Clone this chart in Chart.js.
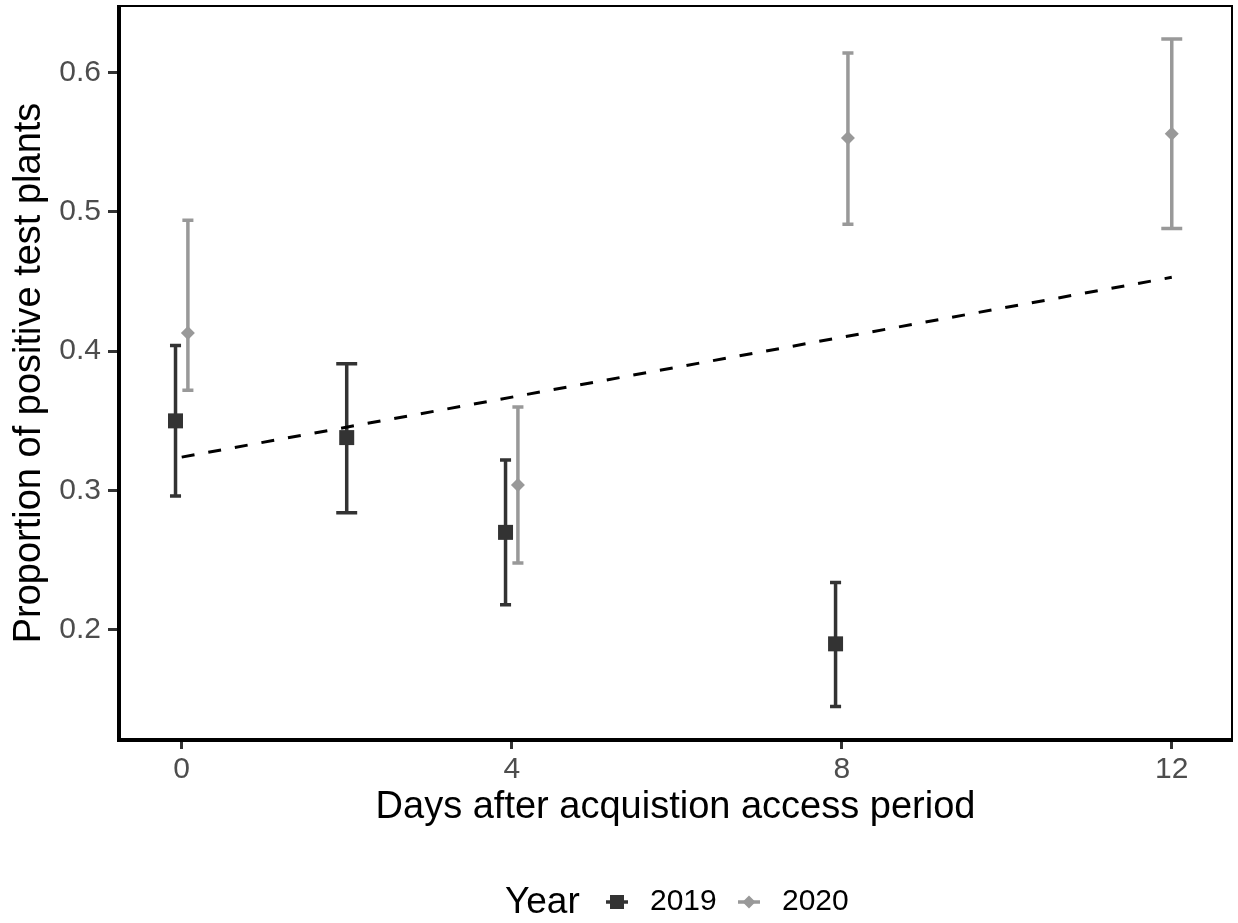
<!DOCTYPE html>
<html>
<head>
<meta charset="utf-8">
<script src="https://cdn.jsdelivr.net/npm/chart.js@4/dist/chart.umd.min.js"></script>
<style>
  body { margin: 0; background: #fff; }
  #wrap { width: 1238px; height: 923px; }
</style>
</head>
<body>
<div id="wrap"><canvas id="propChart" width="1238" height="923"></canvas></div>
<script>
// values
var years = ['2019', '2020'];
var days2019 = [0, 2, 4, 8];
var prop2019 = [0.350, 0.338, 0.270, 0.190];
var low2019 = [0.296, 0.284, 0.218, 0.145];
var high2019 = [0.404, 0.391, 0.322, 0.234];

var days2020 = [0, 4, 8, 12];
var prop2020 = [0.413, 0.304, 0.553, 0.556];
var low2020 = [0.372, 0.248, 0.491, 0.488];
var high2020 = [0.494, 0.360, 0.614, 0.624];

var trendDays = [0, 12];
var trendProp = [0.324, 0.453];

var xTickValues = [0, 4, 8, 12];
var yTickValues = [0.2, 0.3, 0.4, 0.5, 0.6];

var FONT = "'Liberation Sans', Arial, sans-serif";
var colors = ['#333333', '#999999'];
var DODGE = 0.075;

// shift a point sideways when the other year shares the same day
function dodged(days, otherDays, sign) {
    return days.map(function (d) {
        return otherDays.indexOf(d) >= 0 ? d + sign * DODGE : d;
    });
}
var x2019 = dodged(days2019, days2020, -1);
var x2020 = dodged(days2020, days2019, 1);

function toPoints(xs, ys) {
    return xs.map(function (x, i) { return { x: x, y: ys[i] }; });
}

var errorGroups = [
    { x: x2019, days: days2019, low: low2019, high: high2019, color: colors[0] },
    { x: x2020, days: days2020, low: low2020, high: high2020, color: colors[1] }
];

// ------------------------------------------------------- //
// error bars, drawn under the points
// ------------------------------------------------------ //
var errorBars = {
    id: 'errorBars',
    beforeDatasetsDraw: function (chart) {
        var ctx = chart.ctx, xs = chart.scales.x, ys = chart.scales.y;
        ctx.save();
        ctx.lineWidth = 3.5;
        errorGroups.forEach(function (g) {
            ctx.strokeStyle = g.color;
            g.x.forEach(function (xv, i) {
                var single = xv === g.days[i];
                var half = single ? 0.127 : 0.067;
                var px = xs.getPixelForValue(xv);
                var pl = xs.getPixelForValue(xv - half);
                var pr = xs.getPixelForValue(xv + half);
                var top = ys.getPixelForValue(g.high[i]);
                var bot = ys.getPixelForValue(g.low[i]);
                ctx.beginPath();
                ctx.moveTo(px, top); ctx.lineTo(px, bot);
                ctx.moveTo(pl, top); ctx.lineTo(pr, top);
                ctx.moveTo(pl, bot); ctx.lineTo(pr, bot);
                ctx.stroke();
            });
        });
        ctx.restore();
    }
};

// ------------------------------------------------------- //
// panel frame + bottom legend
// ------------------------------------------------------ //
var frameAndLegend = {
    id: 'frameAndLegend',
    afterDraw: function (chart) {
        var ctx = chart.ctx, a = chart.chartArea;
        ctx.save();
        ctx.strokeStyle = '#000';
        ctx.lineWidth = 2;
        ctx.beginPath();
        ctx.moveTo(a.left, a.top); ctx.lineTo(a.right, a.top); ctx.lineTo(a.right, a.bottom);
        ctx.stroke();
        ctx.lineWidth = 4;
        ctx.beginPath();
        ctx.moveTo(a.left, a.top - 1); ctx.lineTo(a.left, a.bottom); ctx.lineTo(a.right + 1, a.bottom);
        ctx.stroke();

        var ly = 902;
        ctx.fillStyle = '#000';
        ctx.textBaseline = 'middle';
        ctx.textAlign = 'left';
        ctx.font = '37px ' + FONT;
        ctx.fillText('Year', 505, ly + 1);

        var keys = [
            { cx: 617, tx: 650, style: 'rect' },
            { cx: 749, tx: 782, style: 'rectRot' }
        ];
        keys.forEach(function (k, i) {
            ctx.strokeStyle = colors[i];
            ctx.lineWidth = 3.5;
            ctx.beginPath();
            ctx.moveTo(k.cx - 11, ly); ctx.lineTo(k.cx + 11, ly);
            ctx.stroke();
            ctx.fillStyle = colors[i];
            ctx.beginPath();
            if (k.style === 'rect') {
                ctx.rect(k.cx - 7, ly - 7, 14, 14);
            } else {
                ctx.moveTo(k.cx - 6.5, ly); ctx.lineTo(k.cx, ly - 6.5);
                ctx.lineTo(k.cx + 6.5, ly); ctx.lineTo(k.cx, ly + 6.5);
                ctx.closePath();
            }
            ctx.fill();
            ctx.fillStyle = '#000';
            ctx.font = '30px ' + FONT;
            ctx.fillText(years[i], k.tx, ly);
        });
        ctx.restore();
    }
};

var chart = new Chart(document.getElementById('propChart'), {
    type: 'scatter',
    data: {
        datasets: [
            {
                type: 'line',
                label: 'trend',
                data: toPoints(trendDays, trendProp),
                borderColor: '#000',
                borderWidth: 3,
                borderDash: [13, 14],
                pointRadius: 0,
                fill: false,
                order: 0
            },
            {
                label: years[0],
                data: toPoints(x2019, prop2019),
                pointStyle: 'rect',
                pointRadius: 10.6,
                backgroundColor: colors[0],
                borderColor: colors[0],
                borderWidth: 0,
                order: 1
            },
            {
                label: years[1],
                data: toPoints(x2020, prop2020),
                pointStyle: 'rectRot',
                pointRadius: 7,
                backgroundColor: colors[1],
                borderColor: colors[1],
                borderWidth: 0,
                order: 2
            }
        ]
    },
    options: {
        responsive: false,
        animation: false,
        layout: { autoPadding: false, padding: { top: 6, right: 6, left: 0, bottom: 90 } },
        plugins: {
            legend: { display: false },
            tooltip: { enabled: false }
        },
        scales: {
            x: {
                type: 'linear',
                min: -0.76,
                max: 12.73,
                afterBuildTicks: function (s) {
                    s.ticks = xTickValues.map(function (v) { return { value: v }; });
                },
                afterFit: function (s) {
                    s.height = 93;
                    s.paddingLeft = 0;
                    s.paddingRight = 0;
                },
                border: { display: false },
                grid: {
                    drawOnChartArea: false,
                    drawTicks: true,
                    tickLength: 9,
                    tickWidth: 3,
                    tickColor: '#333333'
                },
                ticks: {
                    color: '#4d4d4d',
                    padding: 3,
                    maxRotation: 0,
                    font: { family: FONT, size: 30 },
                    callback: function (v) { return String(v); }
                },
                title: {
                    display: true,
                    text: 'Days after acquistion access period',
                    color: '#000',
                    font: { family: FONT, size: 38 },
                    padding: { top: 0, bottom: 3 }
                }
            },
            y: {
                type: 'linear',
                min: 0.121,
                max: 0.6477,
                afterBuildTicks: function (s) {
                    s.ticks = yTickValues.map(function (v) { return { value: v }; });
                },
                afterFit: function (s) {
                    s.width = 119;
                    s.paddingTop = 0;
                    s.paddingBottom = 0;
                },
                border: { display: false },
                grid: {
                    drawOnChartArea: false,
                    drawTicks: true,
                    tickLength: 11,
                    tickWidth: 3,
                    tickColor: '#333333'
                },
                ticks: {
                    color: '#4d4d4d',
                    padding: 7,
                    font: { family: FONT, size: 30 },
                    callback: function (v) { return v.toFixed(1); }
                },
                title: {
                    display: true,
                    text: 'Proportion of positive test plants',
                    color: '#000',
                    font: { family: FONT, size: 38 },
                    padding: { top: 7, bottom: 0 }
                }
            }
        }
    },
    plugins: [errorBars, frameAndLegend]
});
</script>
</body>
</html>
